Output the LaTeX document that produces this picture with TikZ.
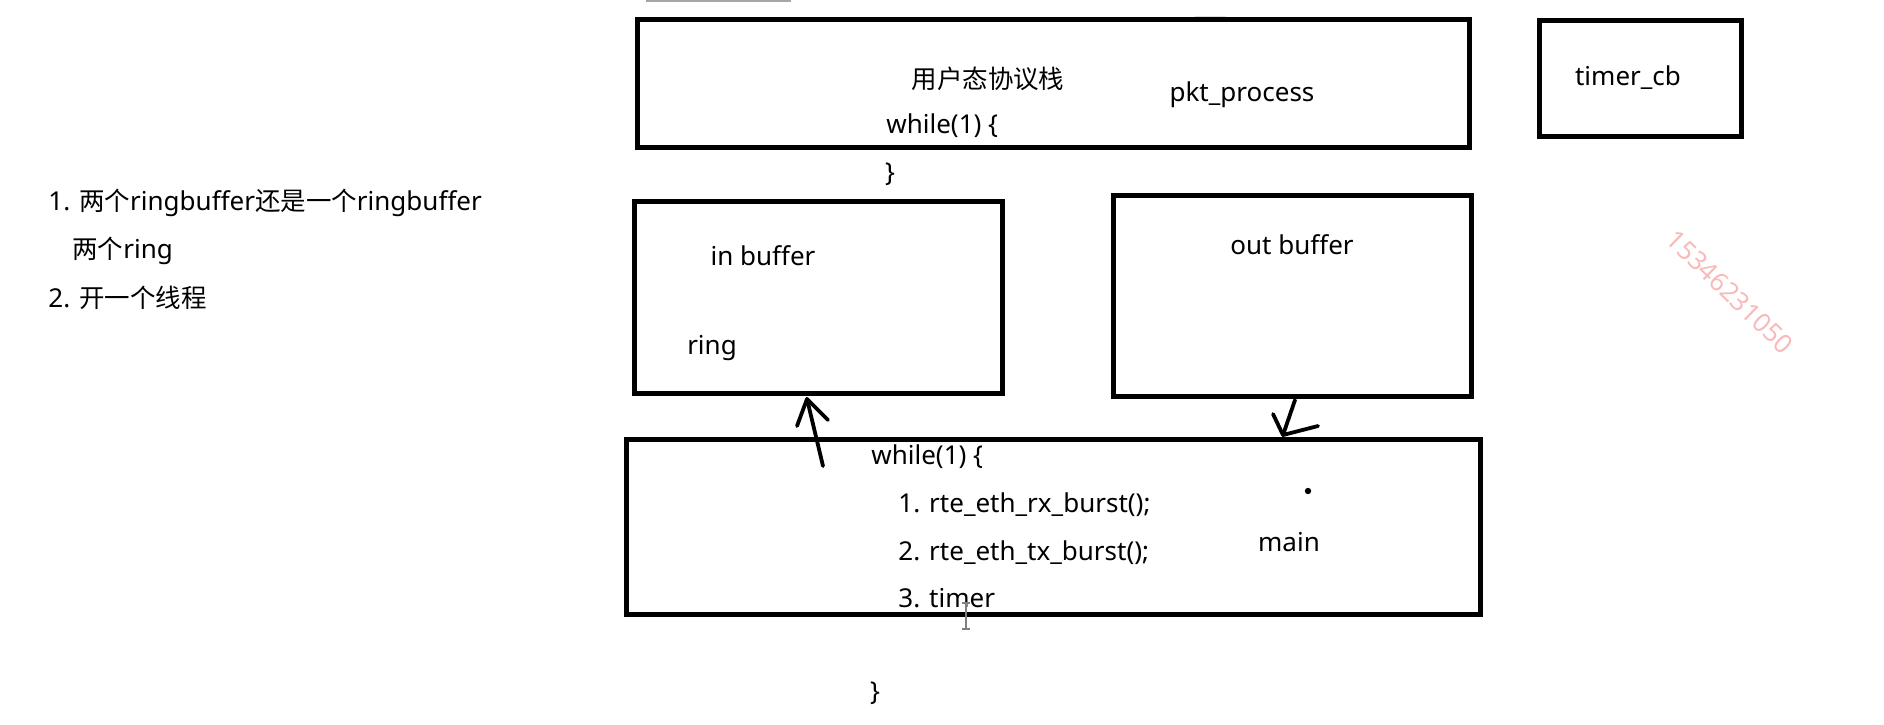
\documentclass[tikz,border=0pt]{standalone}
\usepackage{fontspec}
\setmainfont{Noto Sans}
\newfontfamily\cjk{Noto Sans CJK SC}[Scale=0.98]
\usetikzlibrary{fit}
\definecolor{wmpink}{RGB}{248,186,186}

\begin{document}
\begin{tikzpicture}[x=0.5pt,y=-0.5pt,
    every node/.style={font=\fontsize{13}{16}\selectfont, inner sep=0pt},
    blockbox/.style={draw, line width=2.5pt, inner sep=0pt},
    penline/.style={line width=1.9pt, line cap=round, line join=round}]
    \useasboundingbox (0,0) rectangle (1884,724);

    % Stray marks from the screen capture
    \draw[gray!70, line width=1pt] (646,1) -- (791,1);
    \draw[gray!25, line width=1pt] (1195,17) -- (1226,17);

    % Boxes
    \node[blockbox, fit={(637,19) (1469,147)}] (stack) {};
    \node[blockbox, fit={(1539,20) (1741,136)}] (timercb) {};
    \node[blockbox, fit={(634,201) (1002,393)}] (inbuf) {};
    \node[blockbox, fit={(1113,195) (1471,396)}] (outbuf) {};
    \node[blockbox, fit={(626,439) (1480,614)}] (mainloop) {};

    % User space stack
    \node (stacklabel) at (988,79) {\cjk 用户态协议栈};
    \node (pktproc) at (1242,95) {pkt\_process};
    \node[anchor=west] (stackwhile) at (886,126) {while(1) \{};
    \node (stackend) at (890,174) {\}};
    \node (timerlabel) at (1628,78) {timer\_cb};

    % Buffers
    \node (inlabel) at (763,256) {in buffer};
    \node (ringlabel) at (712,348) {ring};
    \node (outlabel) at (1292,245) {out buffer};

    % Main loop
    \node[anchor=west] (mainwhile) at (871,457) {while(1) \{};
    \foreach \y/\txt [count=\i] in {505/{1. rte\_eth\_rx\_burst();}, 553/{2. rte\_eth\_tx\_burst();}, 598/{3. timer}} {
        \node[anchor=west] (step\i) at (898,\y) {\txt};
      }
    \node (mainend) at (875,693) {\}};
    \node (mainlabel) at (1289,542) {main};
    \fill (1308,491) circle (3.2);
    \draw[gray, line width=0.6pt] (966,603) -- (966,629);
    \draw[gray, line width=0.6pt] (962,603) -- (970,603) (962,629) -- (970,629);

    % Hand drawn arrows
    \coordinate (rxtail) at (823,466);
    \coordinate (rxtip) at (807,399);
    \draw[penline] (rxtail) -- (rxtip);
    \draw[penline] (797,426) -- (rxtip) -- (828,420);
    \coordinate (txtail) at (1295,400);
    \coordinate (txtip) at (1283,435);
    \draw[penline] (txtail) -- (txtip);
    \draw[penline] (1273,414) -- (txtip) -- (1318,426);

    % Notes
    \node[anchor=west] (note1) at (48,203) {1. {\cjk 两个}ringbuffer{\cjk 还是一个}ringbuffer};
    \node[anchor=west] (note2) at (72,251) {{\cjk 两个}ring};
    \node[anchor=west] (note3) at (48,298) {2. {\cjk 开一个线程}};

    % Watermark
    \node[wmpink, rotate=-44] (watermark) at (1730,292) {15346231050};
  \end{tikzpicture}
\end{document}
